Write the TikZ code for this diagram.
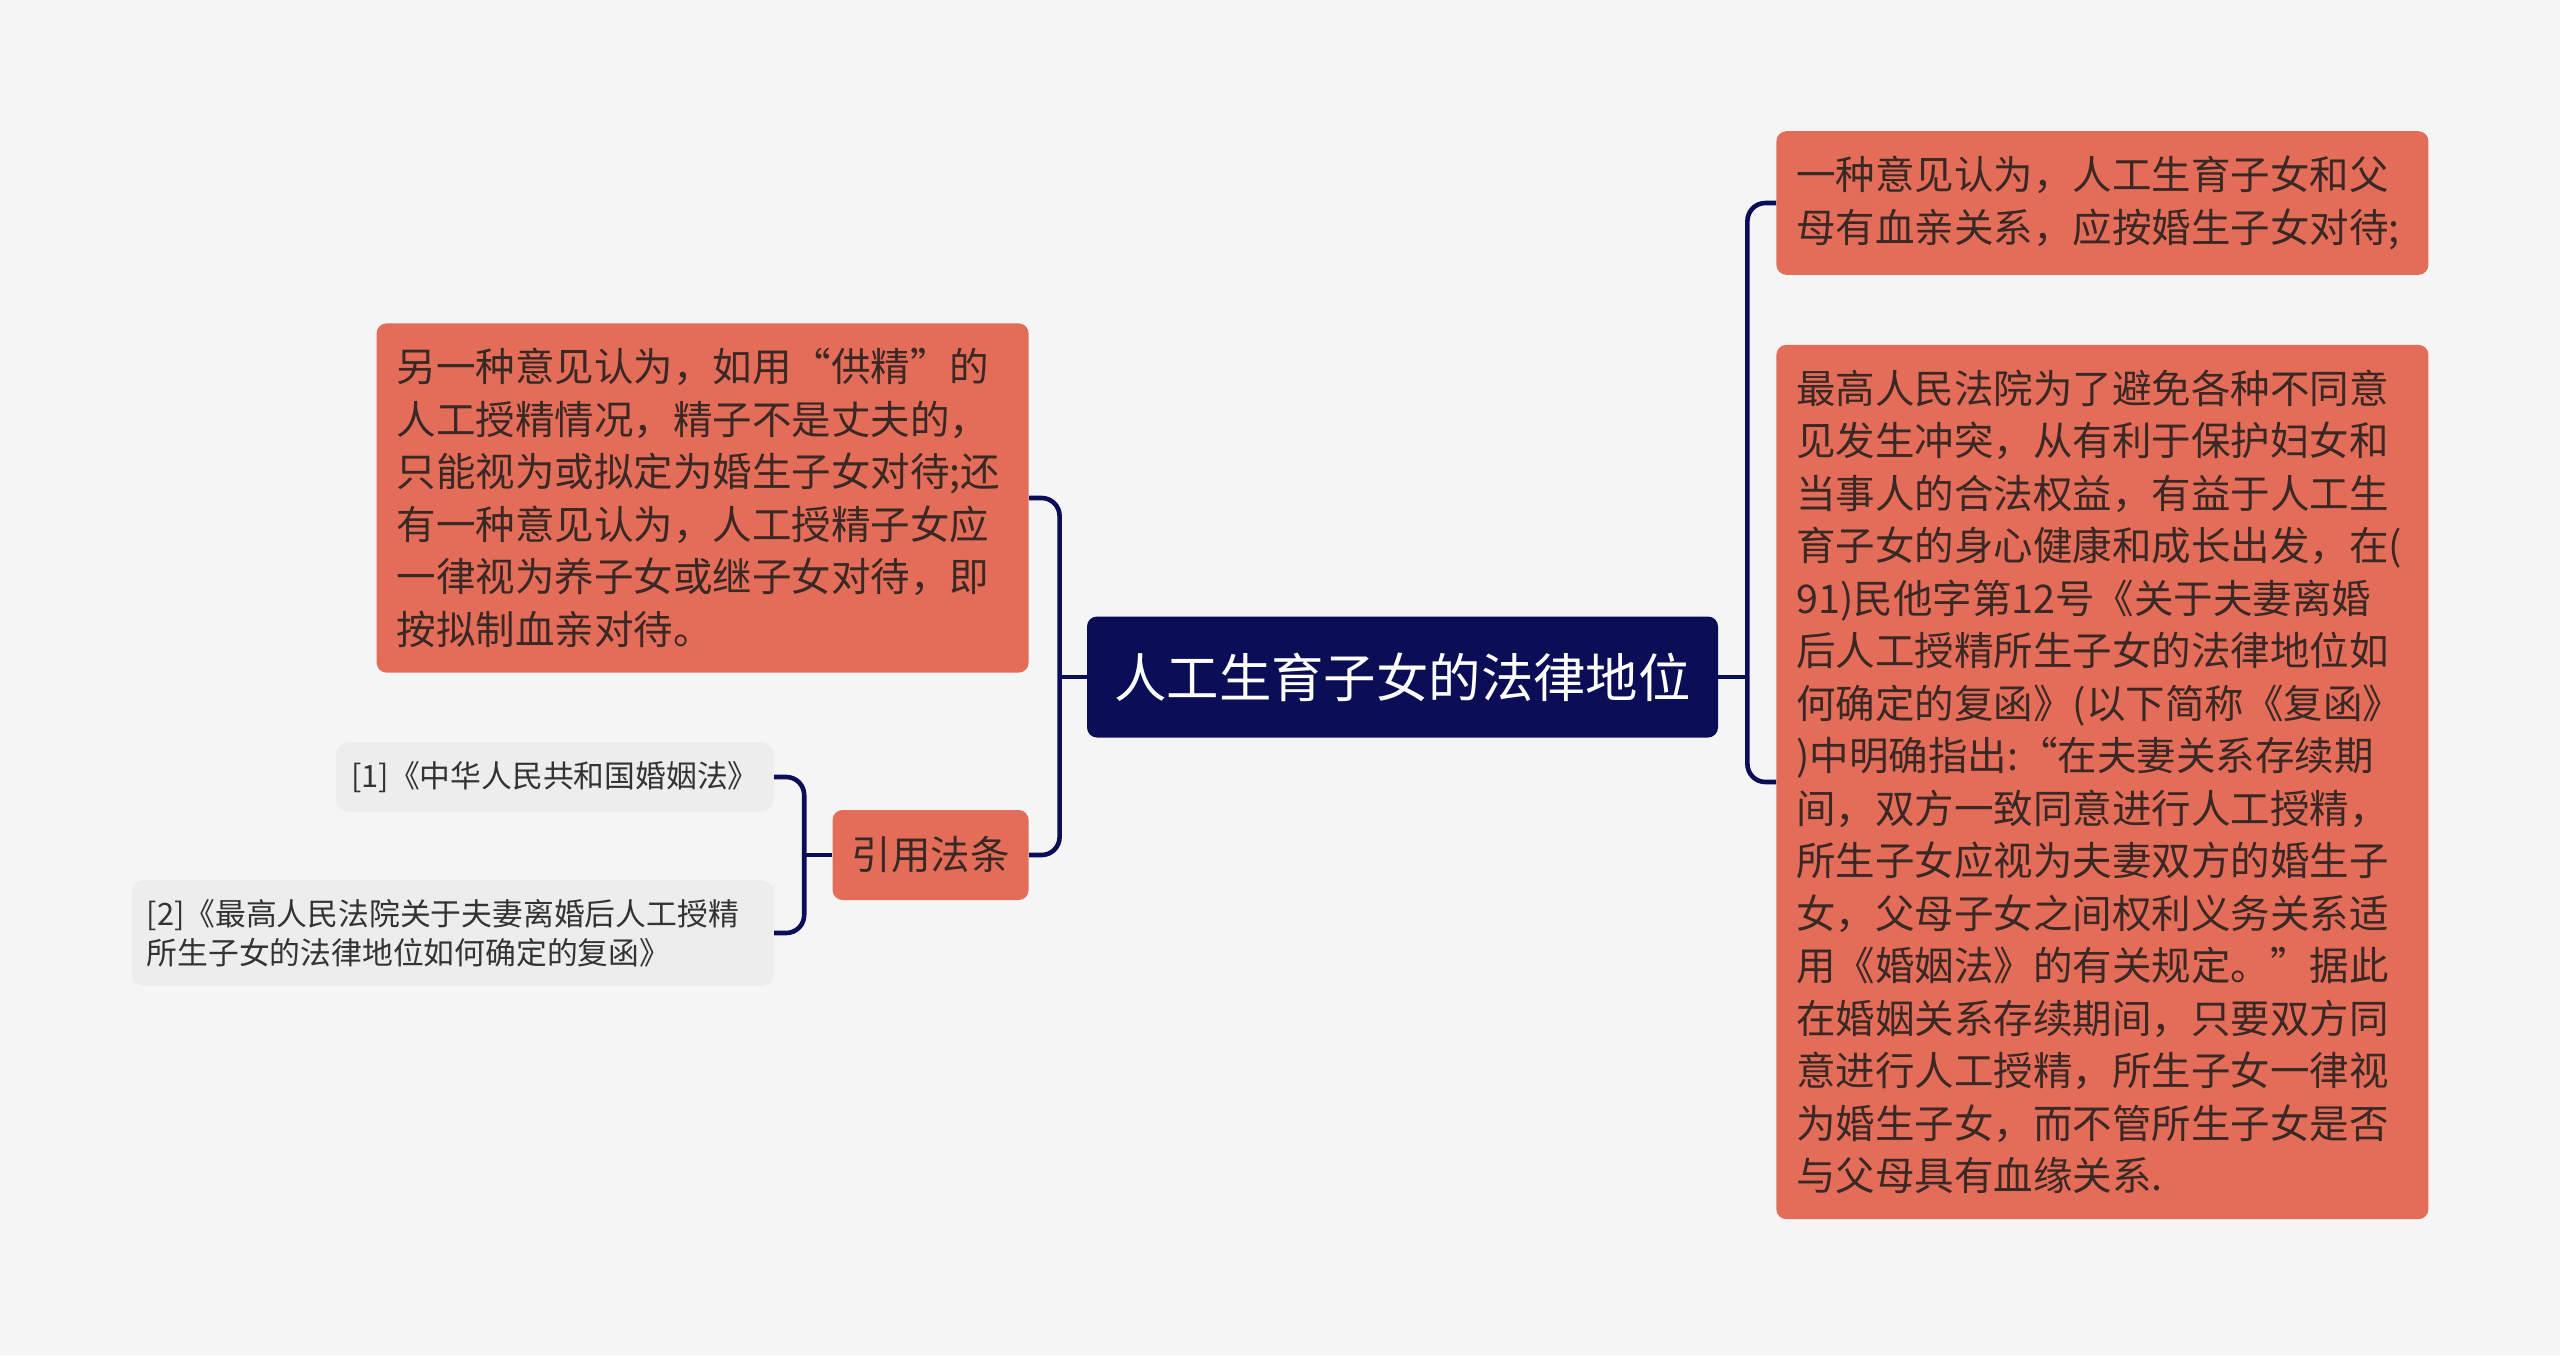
\documentclass[tikz,border=0pt]{standalone}
\usepackage{fontspec}
\setmainfont{Noto Sans CJK SC}
\usetikzlibrary{positioning, calc}
\definecolor{cNavy}{RGB}{11,14,86}
\definecolor{cCoral}{RGB}{228,109,90}
\definecolor{cInk}{RGB}{58,40,36}
\definecolor{cPaper}{RGB}{245,245,245}
\definecolor{cRef}{RGB}{237,237,237}
\definecolor{cRefInk}{RGB}{51,51,51}
\tikzset{
    rootbox/.style={rectangle, rounded corners=5pt, fill=cNavy, text=white, font=\fontsize{26.2pt}{30pt}\selectfont, minimum width=315.5pt, minimum height=60.5pt, inner sep=0pt},
    leaf/.style   ={rectangle, rounded corners=5pt, fill=cCoral, text=cInk, font=\fontsize{19.75pt}{26.25pt}\selectfont, align=left, text width=306pt, inner xsep=10pt, inner ysep=12.5pt},
    citebox/.style={rectangle, rounded corners=5pt, fill=cCoral, text=cInk, font=\fontsize{19.75pt}{26.25pt}\selectfont, minimum width=98pt, minimum height=45pt, inner sep=0pt},
    refbox/.style ={rectangle, rounded corners=6pt, fill=cRef, text=cRefInk, font=\fontsize{15.4pt}{19.5pt}\selectfont, align=left, inner xsep=7.5pt, inner ysep=9.5pt},
    link/.style   ={draw=cNavy, line width=2.3pt, rounded corners=9pt},
}
\begin{document}
\begin{tikzpicture}[x=0.5pt, y=-0.5pt]
    \fill[cPaper] (0,0) rectangle (2560,1355);
    \node[rootbox](root) at (1402.5,677){人工生育子女的法律地位};
    % left side
    \node[leaf, anchor=east](opA) at (1029,498){另一种意见认为，如用“供精”的\\
人工授精情况，精子不是丈夫的，\\
只能视为或拟定为婚生子女对待;还\\
有一种意见认为，人工授精子女应\\
一律视为养子女或继子女对待，即\\
按拟制血亲对待。};
    \node[citebox, anchor=east](cite) at (1029,855){引用法条};
    \node[refbox, minimum width=218pt, anchor=east](ref1) at (774,777){[1]《中华人民共和国婚姻法》};
    \node[refbox, text width=306pt, anchor=east](ref2) at (774,933){[2]《最高人民法院关于夫妻离婚后人工授精\\
所生子女的法律地位如何确定的复函》};
    % right side
    \node[leaf, anchor=west](opB) at (1776,203){一种意见认为，人工生育子女和父\\
母有血亲关系，应按婚生子女对待;};
    \node[leaf, anchor=west](court) at (1776,782){最高人民法院为了避免各种不同意\\
见发生冲突，从有利于保护妇女和\\
当事人的合法权益，有益于人工生\\
育子女的身心健康和成长出发，在(\\
91)民他字第12号《关于夫妻离婚\\
后人工授精所生子女的法律地位如\\
何确定的复函》(以下简称《复函》\\
)中明确指出:“在夫妻关系存续期\\
间，双方一致同意进行人工授精，\\
所生子女应视为夫妻双方的婚生子\\
女，父母子女之间权利义务关系适\\
用《婚姻法》的有关规定。”据此\\
在婚姻关系存续期间，只要双方同\\
意进行人工授精，所生子女一律视\\
为婚生子女，而不管所生子女是否\\
与父母具有血缘关系.};
    % connectors
    \coordinate (jl) at ([xshift=-13.5pt]root.west);
    \coordinate (jr) at ([xshift=14.5pt]root.east);
    \coordinate (jc) at ([xshift=-14pt]cite.west);
    \draw[link](root.west)--(jl);
    \draw[link](opA.east)-|(jl);
    \draw[link](cite.east)-|(jl);
    \draw[link](root.east)--(jr);
    \draw[link](opB.west)-|(jr);
    \draw[link](court.west)-|(jr);
    \draw[link](cite.west)--(jc);
    \draw[link](ref1.east)-|(jc);
    \draw[link](ref2.east)-|(jc);
\end{tikzpicture}
\end{document}
